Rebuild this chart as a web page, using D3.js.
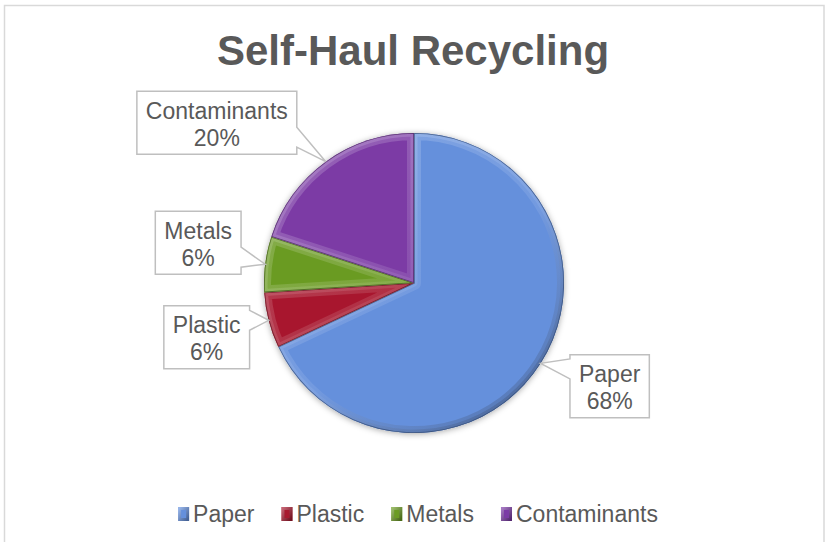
<!DOCTYPE html>
<html>
<head>
<meta charset="utf-8">
<script src="https://cdn.jsdelivr.net/npm/d3@7"></script>
<style>
  html, body { margin: 0; padding: 0; background: #ffffff; }
  svg { display: block; }
  text { font-family: "Liberation Sans", Arial, sans-serif; }
</style>
</head>
<body>
<svg id="chart" width="825" height="542"></svg>
<script>
// ---------- data ----------
const title = "Self-Haul Recycling";
const categories = ["Paper", "Plastic", "Metals", "Contaminants"];
const values = [68, 6, 6, 20];
const colors = ["#6590dc", "#a8192f", "#6b9b23", "#7b3ba5"];

// ---------- layout ----------
const W = 825, H = 542;
const cx = 414, cy = 283, R = 150;
// label box centre offsets relative to the anchor point on the rim
const labelOffsets = [[69, 23], [-62, 17], [-67, -21.5], [-109, -39]];
const textColor = "#595959";

const svg = d3.select("#chart");
const defs = svg.append("defs");

// chart border (no bottom edge visible)
svg.append("path")
  .attr("d", `M4.5,${H + 5} L4.5,5.5 L824,5.5 L824,${H + 5}`)
  .attr("fill", "none").attr("stroke", "#d9d9d9").attr("stroke-width", 1.5);

// title
svg.append("text")
  .attr("x", 413).attr("y", 65)
  .attr("text-anchor", "middle")
  .attr("font-size", 42).attr("font-weight", "bold")
  .attr("fill", textColor)
  .text(title);

// shadow filter
const f = defs.append("filter").attr("id", "shadow")
  .attr("x", "-20%").attr("y", "-20%").attr("width", "140%").attr("height", "140%");
f.append("feDropShadow").attr("dx", 0).attr("dy", 1).attr("stdDeviation", 3)
  .attr("flood-color", "#000").attr("flood-opacity", 0.35);

// bevel gradients per colour (in pie-local coordinates)
colors.forEach((c, i) => {
  const light = d3.interpolateRgb(c, "#ffffff")(0.45);
  const dark = d3.interpolateRgb(c, "#000000")(0.45);
  const g = defs.append("linearGradient").attr("id", "bev" + i)
    .attr("gradientUnits", "userSpaceOnUse")
    .attr("x1", -R * 0.8).attr("y1", -R).attr("x2", R * 0.8).attr("y2", R);
  g.append("stop").attr("offset", "0%").attr("stop-color", light);
  g.append("stop").attr("offset", "55%").attr("stop-color", d3.interpolateRgb(c, "#ffffff")(0.2));
  g.append("stop").attr("offset", "100%").attr("stop-color", dark);
  const lg = defs.append("linearGradient").attr("id", "leg" + i)
    .attr("x1", 0).attr("y1", 0).attr("x2", 1).attr("y2", 1);
  lg.append("stop").attr("offset", "0%").attr("stop-color", light);
  lg.append("stop").attr("offset", "100%").attr("stop-color", dark);
});

const pie = d3.pie().sort(null).value(d => d)
  .startAngle(0).endAngle(2 * Math.PI);
const arcs = pie(values);
const arc = d3.arc().innerRadius(0).outerRadius(R);

const pieG = svg.append("g").attr("transform", `translate(${cx},${cy})`);
const shadowG = pieG.append("g").attr("filter", "url(#shadow)");
shadowG.selectAll("path.base").data(arcs).enter().append("path")
  .attr("class", "base").attr("d", arc)
  .attr("fill", (d, i) => colors[i]);

arcs.forEach((a, i) => {
  defs.append("clipPath").attr("id", "clip" + i)
    .append("path").attr("d", arc(a));
});

// bevel strokes clipped inside each slice (pie-local coordinates)
const bevG = pieG.append("g");
arcs.forEach((a, i) => {
  const sg = bevG.append("g").attr("clip-path", `url(#clip${i})`);
  sg.append("path")
    .attr("d", arc(a))
    .attr("fill", "none")
    .attr("stroke", `url(#bev${i})`).attr("stroke-width", 14)
    .attr("stroke-linejoin", "round")
    .attr("stroke-opacity", 0.45);
  sg.append("path")
    .attr("d", arc(a))
    .attr("fill", "none")
    .attr("stroke", `url(#bev${i})`).attr("stroke-width", 7)
    .attr("stroke-linejoin", "round")
    .attr("stroke-opacity", 0.6);
  // dark seam line
  sg.append("path")
    .attr("d", arc(a))
    .attr("fill", "none")
    .attr("stroke", d3.interpolateRgb(colors[i], "#000")(0.5))
    .attr("stroke-width", 1.6).attr("stroke-opacity", 0.7);
});

// ---------- data labels with callouts ----------
const fmt = d3.format(".0%");
const total = d3.sum(values);
const labG = svg.append("g");
arcs.forEach((a, i) => {
  const mid = (a.startAngle + a.endAngle) / 2;
  const ax = cx + R * Math.sin(mid);
  const ay = cy - R * Math.cos(mid);
  const bx = ax + labelOffsets[i][0];
  const by = ay + labelOffsets[i][1];
  const g = labG.append("g");
  const t1 = g.append("text").attr("x", bx).attr("y", by - 4)
    .attr("text-anchor", "middle").attr("font-size", 23).attr("fill", textColor)
    .text(categories[i]);
  const t2 = g.append("text").attr("x", bx).attr("y", by + 23)
    .attr("text-anchor", "middle").attr("font-size", 23).attr("fill", textColor)
    .text(fmt(values[i] / total));
  const tw = Math.max(t1.node().getComputedTextLength(), t2.node().getComputedTextLength());
  const bw = tw + 18, bh = 63;
  const L = bx - bw / 2, Rr = bx + bw / 2, T = by - bh / 2, B = by + bh / 2;
  const pc = Math.max(T + 14, Math.min(B - 17, ay));
  const p0 = pc - 10, p1 = pc + 10;
  let d;
  if (ax > Rr) {
    d = `M${L},${T} L${Rr},${T} L${Rr},${p0} L${ax},${ay} L${Rr},${p1} L${Rr},${B} L${L},${B} Z`;
  } else {
    d = `M${L},${T} L${Rr},${T} L${Rr},${B} L${L},${B} L${L},${p1} L${ax},${ay} L${L},${p0} Z`;
  }
  g.insert("path", "text").attr("d", d)
    .attr("fill", "#ffffff").attr("stroke", "#bfbfbf").attr("stroke-width", 1.5)
    .attr("stroke-linejoin", "miter");
});

// ---------- legend ----------
const legG = svg.append("g");
const legY = 522;
const items = [];
categories.forEach((c, i) => {
  const it = legG.append("g");
  it.append("rect").attr("x", 0).attr("y", legY - 15).attr("width", 11).attr("height", 14)
    .attr("fill", colors[i]);
  it.append("rect").attr("x", 1.5).attr("y", legY - 13.5).attr("width", 8).attr("height", 11)
    .attr("fill", "none").attr("stroke", `url(#leg${i})`).attr("stroke-width", 3).attr("stroke-opacity", 0.7);
  const t = it.append("text").attr("x", 15).attr("y", legY)
    .attr("font-size", 23).attr("fill", textColor).text(c);
  const w = 15 + t.node().getComputedTextLength();
  items.push({ g: it, w });
});
const gap = 27;
const totalW = d3.sum(items, d => d.w) + gap * (items.length - 1);
let x0 = 418 - totalW / 2;
items.forEach(d => { d.g.attr("transform", `translate(${x0},0)`); x0 += d.w + gap; });
</script>
</body>
</html>
